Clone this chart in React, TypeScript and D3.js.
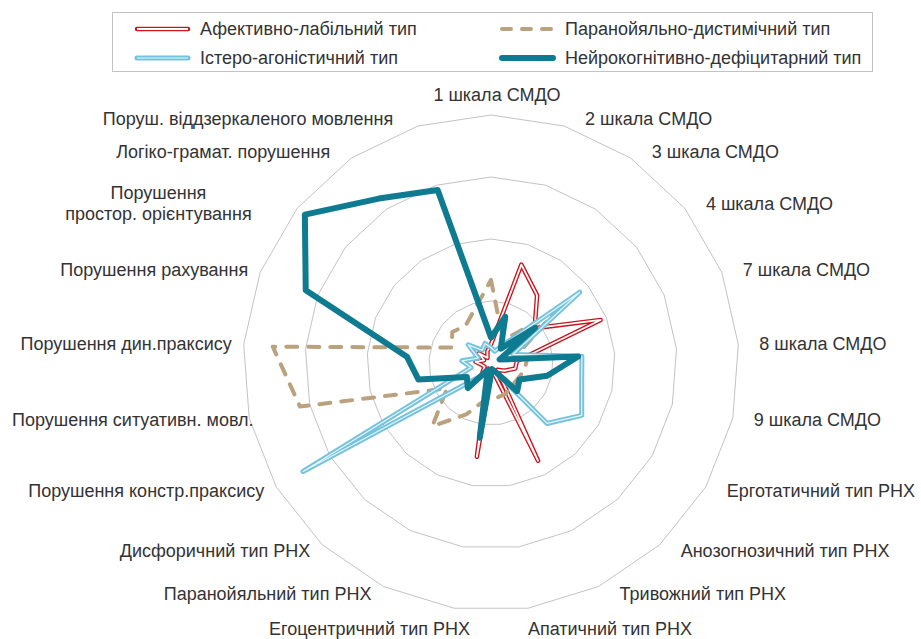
import React, { useEffect, useRef } from "react";
import * as d3 from "d3";

const categories = [
  "1 шкала СМДО",
  "2 шкала СМДО",
  "3 шкала СМДО",
  "4 шкала СМДО",
  "7 шкала СМДО",
  "8 шкала СМДО",
  "9 шкала СМДО",
  "Ерготатичний тип РНХ",
  "Анозогнозичний тип РНХ",
  "Тривожний тип РНХ",
  "Апатичний тип РНХ",
  "Егоцентричний тип РНХ",
  "Паранойяльний тип РНХ",
  "Дисфоричний тип РНХ",
  "Порушення констр.праксису",
  "Порушення ситуативн. мовл.",
  "Порушення дин.праксису",
  "Порушення рахування",
  "Порушення\nпростор. орієнтування",
  "Логіко-грамат. порушення",
  "Поруш. віддзеркаленого мовлення",
];

// values per series, one per category (clockwise from the top)
const afektyvnoLabilnyi = [0.3, 1.66, 1.32, 0.9, 1.9, 0.42, 0.4, 0.25, 0.15, 1.75, 0.1, 1.53, 0.1, 0.2, 0.12, 0.15, 0.25, 0.12, 0.25, 0.1, 0.2];
const paranoialnoDystymichnyi = [1.34, 0.55, 0.5, 1.35, 0.5, 0.58, 0.55, 0.5, 0.5, 0.55, 0.57, 0.6, 0.92, 1.39, 0.82, 3.16, 3.53, 0.68, 0.8, 0.73, 0.9];
const isteroAhonistychnyi = [0.25, 0.2, 0.35, 1.83, 0.38, 1.47, 1.5, 1.69, 1.33, 0.15, 0.15, 0.3, 0.2, 0.33, 3.5, 0.33, 0.47, 0.22, 0.47, 0.25, 0.33];
const neirokohnityvnyi = [0.41, 0.78, 0.28, 0.91, 0.15, 1.41, 0.93, 0.53, 0.62, 0.15, 0.1, 1.22, 0.12, 0.55, 0.45, 1.2, 1.36, 3.21, 3.84, 3.21, 2.92];

const seriesNames = [
  "Афективно-лабільний тип",
  "Паранойяльно-дистимічний тип",
  "Істеро-агоністичний тип",
  "Нейрокогнітивно-дефіцитарний тип",
];

const ringValues = [1, 2, 3, 4];

const FONT = "'Liberation Sans', Arial, sans-serif";
const FS = 18;

export default function App() {
  const ref = useRef(null);

  useEffect(() => {
    const svg = d3.select(ref.current);
    svg.selectAll("*").remove();

    const cx = 491;
    const cy = 363;
    const R = 248;
    const n = categories.length;
    // labels are kept inside this horizontal band
    const minX = 12;
    const maxX = 918;

    const rScale = d3.scaleLinear().domain([0, 4]).range([0, R]);
    const angle = d3
      .scaleLinear()
      .domain([0, n])
      .range([0, 2 * Math.PI]);

    const chart = svg.append("g").attr("transform", `translate(${cx},${cy})`);

    // grid rings
    const ringLine = d3
      .lineRadial()
      .angle((d, i) => angle(i))
      .radius(d => rScale(d))
      .curve(d3.curveLinearClosed);

    ringValues.forEach(v => {
      chart
        .append("path")
        .attr("d", ringLine(categories.map(() => v)))
        .attr("fill", "none")
        .attr("stroke", "#c3c3c3")
        .attr("stroke-width", 1);
    });

    // category labels
    categories.forEach((c, i) => {
      const a = angle(i);
      const dx = Math.sin(a);
      const dy = -Math.cos(a);
      const px = rScale(4) * dx;
      const py = rScale(4) * dy;
      let anchor = "start";
      let x = px + 21;
      let yc = py + dy * 8;
      if (Math.abs(dx) < 0.05) {
        anchor = "middle";
        x = px + 6;
        yc = py - 20;
      } else if (dy > 0.95) {
        yc = py + 20;
        if (dx > 0) {
          anchor = "start";
          x = px;
        } else {
          anchor = "end";
          x = px + 16;
        }
      } else if (dx < 0) {
        anchor = "end";
        x = px - 12 + 14 * Math.min(0, dy + 0.5) / 0.5;
      }
      const lines = c.split("\n");
      const t = chart
        .append("text")
        .attr("font-family", FONT)
        .attr("font-size", FS)
        .attr("fill", "#333")
        .attr("text-anchor", anchor);
      const lh = 21;
      lines.forEach((ln, k) => {
        t.append("tspan")
          .attr("x", x)
          .attr("y", yc + 6.3 + (k - (lines.length - 1) / 2) * lh)
          .text(ln);
      });
      const w = d3.max(t.selectAll("tspan").nodes(), nd => nd.getComputedTextLength());
      if (lines.length > 1) {
        // wrapped label: centre the lines on their box
        anchor = "middle";
        x = x - 30 - w / 2;
        t.attr("text-anchor", anchor);
      }
      // keep the label box inside the chart area
      const left = cx + (anchor === "start" ? x : anchor === "end" ? x - w : x - w / 2);
      if (left < minX) x += minX - left;
      if (left + w > maxX) x -= left + w - maxX;
      t.selectAll("tspan").attr("x", x);
    });

    const radarLine = d3
      .lineRadial()
      .angle((d, i) => angle(i))
      .radius(d => rScale(d))
      .curve(d3.curveLinearClosed);

    const styles = [
      { data: afektyvnoLabilnyi, color: "#c8151e", width: 4.5, inner: "#fff", innerWidth: 1.8 },
      { data: paranoialnoDystymichnyi, color: "#baa27f", width: 4, dash: "11 11" },
      { data: isteroAhonistychnyi, color: "#74c2dc", width: 5, inner: "#e6f5fa", innerWidth: 1.2 },
      { data: neirokohnityvnyi, color: "#0f7b90", width: 6 },
    ];

    styles.forEach(s => {
      chart
        .append("path")
        .attr("d", radarLine(s.data))
        .attr("fill", "none")
        .attr("stroke", s.color)
        .attr("stroke-width", s.width)
        .attr("stroke-linejoin", "round")
        .attr("stroke-linecap", "round")
        .attr("stroke-dasharray", s.dash || null);
      if (s.inner) {
        chart
          .append("path")
          .attr("d", radarLine(s.data))
          .attr("fill", "none")
          .attr("stroke", s.inner)
          .attr("stroke-width", s.innerWidth)
          .attr("stroke-linejoin", "round");
      }
    });

    // legend
    const legend = svg.append("g");
    legend
      .append("rect")
      .attr("x", 112.5)
      .attr("y", 12.5)
      .attr("width", 760)
      .attr("height", 59)
      .attr("fill", "#fff")
      .attr("stroke", "#c3c3c3");

    styles.forEach((s, k) => {
      const col = k % 2;
      const row = Math.floor(k / 2);
      const x0 = col === 0 ? 135 : 500;
      const y0 = row === 0 ? 29 : 58;
      legend
        .append("line")
        .attr("x1", x0 + 2)
        .attr("x2", x0 + 53)
        .attr("y1", y0)
        .attr("y2", y0)
        .attr("stroke", s.color)
        .attr("stroke-width", s.width)
        .attr("stroke-linecap", "round")
        .attr("stroke-dasharray", s.dash ? "9 11" : null);
      if (s.inner) {
        legend
          .append("line")
          .attr("x1", x0 + 2)
          .attr("x2", x0 + 53)
          .attr("y1", y0)
          .attr("y2", y0)
          .attr("stroke", s.inner)
          .attr("stroke-width", s.innerWidth);
      }
      legend
        .append("text")
        .attr("x", x0 + 65)
        .attr("y", y0 + 6.3)
        .attr("font-family", FONT)
        .attr("font-size", FS)
        .attr("fill", "#333")
        .text(seriesNames[k]);
    });
  }, []);

  return (
    <svg
      ref={ref}
      width={921}
      height={639}
      style={{ position: "absolute", left: 0, top: 0, background: "#fff" }}
    />
  );
}
